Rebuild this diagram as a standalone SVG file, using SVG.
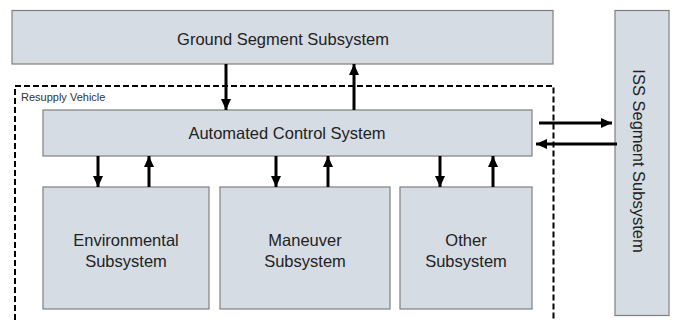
<svg xmlns="http://www.w3.org/2000/svg" width="673" height="320" viewBox="0 0 673 320">
<style>
.box{fill:#d6dce4;stroke:#7f7f7f;stroke-width:1.2}
.t{font-family:"Liberation Sans",Arial,sans-serif;font-size:16.5px;fill:#222;text-anchor:middle}
.c{stroke:#000;stroke-width:3;fill:none}
</style>
<defs>
<marker id="ah" markerUnits="userSpaceOnUse" markerWidth="12" markerHeight="12" viewBox="0 0 12 12" refX="11" refY="6" orient="auto">
<path d="M0,1 L11,6 L0,11 Z" fill="#000"/>
</marker>
</defs>
<rect width="673" height="320" fill="#fff"/>
<g id="resupply-vehicle">
<rect x="15" y="86" width="538.5" height="240" fill="none" stroke="#000" stroke-width="2" stroke-dasharray="6,3"/>
<text x="21" y="101" font-family="Liberation Sans,Arial,sans-serif" font-size="11" fill="#333">Resupply Vehicle</text>
</g>
<g id="ground">
<rect class="box" x="12" y="10.5" width="541" height="53.5"/>
<text class="t" x="283" y="45">Ground Segment Subsystem</text>
</g>
<g id="acs">
<rect class="box" x="43" y="110" width="489" height="46"/>
<text class="t" x="287" y="139">Automated Control System</text>
</g>
<g id="env">
<rect class="box" x="43" y="187" width="166" height="122"/>
<text class="t" x="126" y="246">Environmental</text>
<text class="t" x="126" y="267">Subsystem</text>
</g>
<g id="man">
<rect class="box" x="220" y="187" width="170" height="122"/>
<text class="t" x="305" y="246">Maneuver</text>
<text class="t" x="305" y="267">Subsystem</text>
</g>
<g id="other">
<rect class="box" x="400" y="187" width="132" height="122"/>
<text class="t" x="466" y="246">Other</text>
<text class="t" x="466" y="267">Subsystem</text>
</g>
<g id="iss">
<rect class="box" x="615" y="10.5" width="54" height="305"/>
<text class="t" transform="translate(633,161) rotate(90)" x="0" y="0">ISS Segment Subsystem</text>
</g>
<g id="connectors">
<line class="c" x1="226" y1="64" x2="226" y2="110" marker-end="url(#ah)"/>
<line class="c" x1="354" y1="110" x2="354" y2="64" marker-end="url(#ah)"/>
<line class="c" x1="98" y1="156" x2="98" y2="187" marker-end="url(#ah)"/>
<line class="c" x1="149" y1="187" x2="149" y2="156" marker-end="url(#ah)"/>
<line class="c" x1="276" y1="156" x2="276" y2="187" marker-end="url(#ah)"/>
<line class="c" x1="328" y1="187" x2="328" y2="156" marker-end="url(#ah)"/>
<line class="c" x1="440" y1="156" x2="440" y2="187" marker-end="url(#ah)"/>
<line class="c" x1="493" y1="187" x2="493" y2="156" marker-end="url(#ah)"/>
<line class="c" x1="539" y1="123" x2="612" y2="123" marker-end="url(#ah)"/>
<line class="c" x1="617" y1="144" x2="536" y2="144" marker-end="url(#ah)"/>
</g>
</svg>
